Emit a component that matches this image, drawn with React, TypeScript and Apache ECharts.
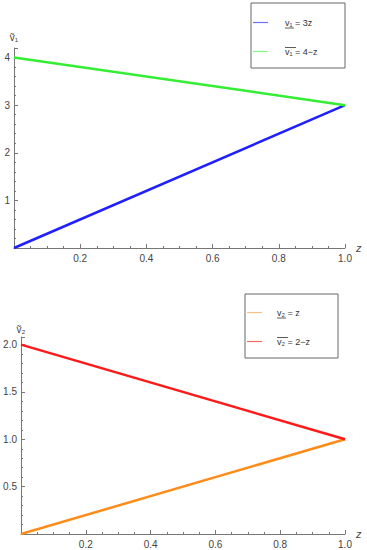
import React, { useEffect, useRef } from "react";
import * as echarts from "echarts";

const zValues = [0, 1];
const v1Lower = [0, 3];
const v1Upper = [4, 3];
const v2Lower = [0, 1];
const v2Upper = [2, 1];

const names1 = ["v₁ = 3z", "v₁ = 4−z"];
const names2 = ["v₂ = z", "v₂ = 2−z"];
const colors1 = ["#1f1fff", "#33ee33"];
const colors2 = ["#ff8c1a", "#ff1a1a"];
const swatch1 = ["#7070ff", "#7dfb7d"];
const swatch2 = ["#ffbf80", "#ff6666"];

const AXIS = "#777";
const LABEL = "#444";
const FONT = "Liberation Sans, Arial, sans-serif";

function pts(ys: number[]) {
  return zValues.map((z, i) => [z, ys[i]]);
}

function xAxisCfg(gridIndex: number) {
  return {
    type: "value",
    gridIndex,
    min: 0,
    max: 1,
    interval: 0.2,
    name: "z",
    nameLocation: "end",
    nameGap: 11,
    nameTextStyle: { color: LABEL, fontStyle: "italic", fontSize: 11, fontFamily: FONT },
    axisLine: { show: true, onZero: false, lineStyle: { color: AXIS, width: 1 } },
    axisTick: { show: true, inside: true, length: 4, lineStyle: { color: AXIS } },
    minorTick: { show: true, splitNumber: 4, length: 2, lineStyle: { color: AXIS } },
    splitLine: { show: false },
    axisLabel: {
      color: LABEL,
      fontSize: 10,
      fontFamily: FONT,
      margin: 5,
      formatter: (v: number) => (v === 0 ? "" : v.toFixed(1)),
    },
  };
}

function yAxisCfg(gridIndex: number, max: number, interval: number, minorSplit: number, name: string, nameGap: number, dec: number) {
  return {
    type: "value",
    gridIndex,
    min: 0,
    max,
    interval,
    name,
    nameLocation: "end",
    nameGap,
    nameTextStyle: { color: LABEL, fontSize: 10, fontFamily: FONT },
    axisLine: { show: true, onZero: false, lineStyle: { color: AXIS, width: 1 } },
    axisTick: { show: true, inside: true, length: 4, lineStyle: { color: AXIS } },
    minorTick: { show: true, splitNumber: minorSplit, length: 2, lineStyle: { color: AXIS } },
    splitLine: { show: false },
    axisLabel: {
      color: LABEL,
      fontSize: 10,
      fontFamily: FONT,
      margin: 4,
      showMaxLabel: false,
      formatter: (v: number) => (v === 0 ? "" : v.toFixed(dec)),
    },
  };
}

function legendCfg(names: string[], swatch: string[], left: number, top: number, gap: number, pad: number) {
  return {
    data: names.map((n, i) => ({ name: n, itemStyle: { color: swatch[i] } })),
    orient: "vertical",
    left,
    top,
    padding: 0,
    itemGap: gap,
    itemWidth: 15,
    itemHeight: 1.2,
    icon: "rect",
    formatter: (n: string) => "{a|" + n + "}",
    textStyle: {
      rich: {
        a: { fontSize: 9, fontFamily: FONT, color: "#333", lineHeight: 14, padding: [0, 0, 0, pad] },
      },
    },
  };
}

export default function App() {
  const ref = useRef<HTMLDivElement>(null);
  useEffect(() => {
    if (!ref.current) return;
    const chart = echarts.init(ref.current, null, { renderer: "svg" });
    const line = (x1: number, y1: number, x2: number, y2: number) => ({
      type: "line",
      shape: { x1, y1, x2, y2 },
      style: { stroke: "#333", lineWidth: 0.8 },
      z: 100,
    });
    chart.setOption({
      animation: false,
      backgroundColor: "#fff",
      grid: [
        { left: 14, right: 22, top: 48, bottom: 302 },
        { left: 21, right: 22, top: 337, bottom: 16 },
      ],
      xAxis: [xAxisCfg(0), xAxisCfg(1)],
      yAxis: [
        yAxisCfg(0, 4.2, 1, 5, "ṽ₁", 6, 0),
        yAxisCfg(1, 2.08, 0.5, 5, "ṽ₂", 3, 1),
      ],
      legend: [
        legendCfg(names1, swatch1, 253, 18, 20, 12),
        legendCfg(names2, swatch2, 247, 308, 20, 10),
      ],
      series: [
        { type: "line", name: names1[0], xAxisIndex: 0, yAxisIndex: 0, data: pts(v1Lower), showSymbol: false, color: colors1[0], lineStyle: { width: 2.5 } },
        { type: "line", name: names1[1], xAxisIndex: 0, yAxisIndex: 0, data: pts(v1Upper), showSymbol: false, color: colors1[1], lineStyle: { width: 2.5 } },
        { type: "line", name: names2[0], xAxisIndex: 1, yAxisIndex: 1, data: pts(v2Lower), showSymbol: false, color: colors2[0], lineStyle: { width: 2.5 } },
        { type: "line", name: names2[1], xAxisIndex: 1, yAxisIndex: 1, data: pts(v2Upper), showSymbol: false, color: colors2[1], lineStyle: { width: 2.5 } },
      ],
      graphic: [
        { type: "rect", shape: { x: 251, y: 3, width: 94, height: 65 }, style: { fill: "none", stroke: "#666", lineWidth: 1 } },
        { type: "rect", shape: { x: 245, y: 294, width: 93, height: 64 }, style: { fill: "none", stroke: "#666", lineWidth: 1 } },
        line(285, 28, 294, 28),
        line(285, 47.5, 296, 47.5),
        line(277, 318, 286, 318),
        line(277, 337.5, 288, 337.5),
      ],
    });
    return () => chart.dispose();
  }, []);
  return <div ref={ref} style={{ position: "absolute", left: 0, top: 0, width: 367, height: 550 }} />;
}
